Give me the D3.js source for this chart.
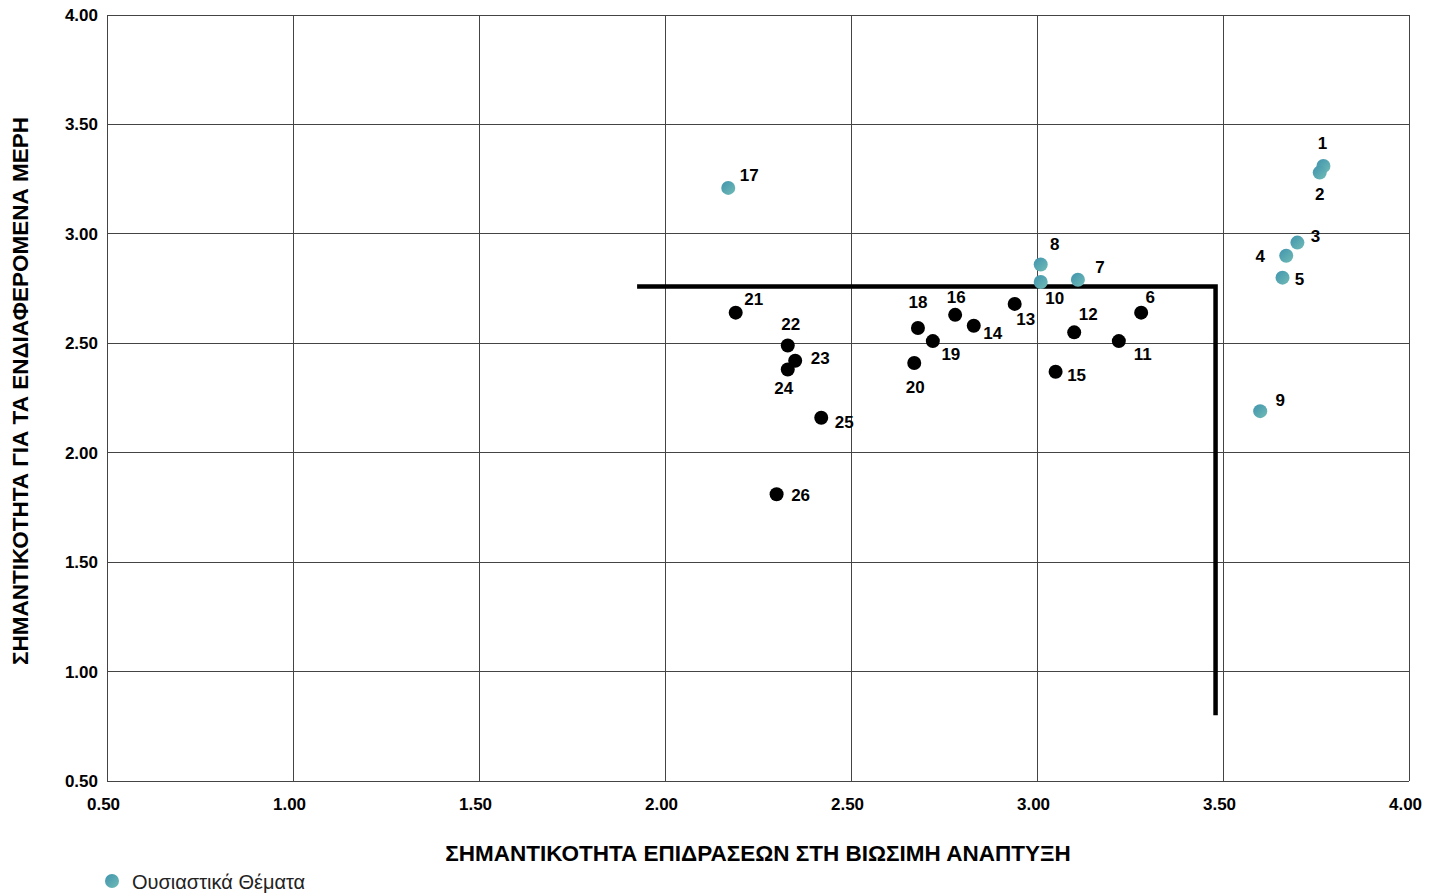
<!DOCTYPE html>
<html><head><meta charset="utf-8">
<script src="https://cdn.jsdelivr.net/npm/d3@7"></script>
<style>
body{margin:0;background:#fff;}
svg{display:block;font-family:"Liberation Sans",Arial,sans-serif;}
</style></head>
<body><svg id="c" width="1439" height="893"></svg>
<script>
const ids = [1,2,3,4,5,6,7,8,9,10,11,12,13,14,15,16,17,18,19,20,21,22,23,24,25,26];
const impactX = [3.77,3.76,3.70,3.67,3.66,3.28,3.11,3.01,3.60,3.01,3.22,3.10,2.94,2.83,3.05,2.78,2.17,2.68,2.72,2.67,2.19,2.33,2.35,2.33,2.42,2.30];
const stakeY  = [3.31,3.28,2.96,2.90,2.80,2.64,2.79,2.86,2.19,2.78,2.51,2.55,2.68,2.58,2.37,2.63,3.21,2.57,2.51,2.41,2.64,2.49,2.42,2.38,2.16,1.81];
const material = [1,1,1,1,1,0,1,1,1,1,0,0,0,0,0,0,1,0,0,0,0,0,0,0,0,0];
const xTicks = [0.5,1.0,1.5,2.0,2.5,3.0,3.5,4.0];
const yTicks = [0.5,1.0,1.5,2.0,2.5,3.0,3.5,4.0];
const thresholdX = [1.925,3.48,3.48];
const thresholdY = [2.76,2.76,0.80];
const xTitle = "ΣΗΜΑΝΤΙΚΟΤΗΤΑ ΕΠΙΔΡΑΣΕΩΝ ΣΤΗ ΒΙΩΣΙΜΗ ΑΝΑΠΤΥΞΗ";
const yTitle = "ΣΗΜΑΝΤΙΚΟΤΗΤΑ ΓΙΑ ΤΑ ΕΝΔΙΑΦΕΡΟΜΕΝΑ ΜΕΡΗ";
const legendLabel = "Ουσιαστικά Θέματα";
// label offsets (layout only)
const labelDx = [-1,0,18,-26,17,9,22,14,20,14,24,14,11,19,21,1,21,0,18,1,18,3,25,-4,23,24];
const labelDy = [-23,22,-6,1,2,-15,-12,-20,-11,16,13,-18,16,8,4,-17,-12,-25,13,25,-13,-21,-2,19,5,1];

const svg = d3.select("#c");
const defs = svg.append("defs");
const g = defs.append("linearGradient").attr("id","teal").attr("x1","0").attr("y1","0").attr("x2","1").attr("y2","1");
g.append("stop").attr("offset","0%").attr("stop-color","#3f93ad");
g.append("stop").attr("offset","100%").attr("stop-color","#72bcb6");

const x = d3.scaleLinear().domain([0.5,4.0]).range([107,1409]);
const y = d3.scaleLinear().domain([0.5,4.0]).range([781,15]);

// grid
svg.append("g").selectAll("line").data(xTicks).join("line")
  .attr("x1",d=>x(d)).attr("x2",d=>x(d)).attr("y1",y(4)).attr("y2",y(0.5))
  .attr("stroke","#444").attr("stroke-width",1).attr("shape-rendering","crispEdges");
svg.append("g").selectAll("line").data(yTicks).join("line")
  .attr("y1",d=>y(d)).attr("y2",d=>y(d)).attr("x1",x(0.5)).attr("x2",x(4))
  .attr("stroke","#444").attr("stroke-width",1).attr("shape-rendering","crispEdges");

// axes labels
const xAxis = svg.append("g").attr("transform",`translate(0,${y(0.5)})`)
  .call(d3.axisBottom(x).tickValues(xTicks).tickFormat(d3.format(".2f")).tickSize(0).tickPadding(17));
xAxis.select(".domain").remove();
xAxis.selectAll("text").attr("font-size",17).attr("font-weight","bold").attr("fill","#000")
  .attr("font-family","Liberation Sans, Arial, sans-serif").attr("dx",-4);
const yAxis = svg.append("g").attr("transform",`translate(${x(0.5)},0)`)
  .call(d3.axisLeft(y).tickValues(yTicks).tickFormat(d3.format(".2f")).tickSize(0).tickPadding(9));
yAxis.select(".domain").remove();
yAxis.selectAll("text").attr("font-size",17).attr("font-weight","bold").attr("fill","#000")
  .attr("font-family","Liberation Sans, Arial, sans-serif");

// threshold line
svg.append("path").datum(thresholdX.map((v,i)=>[v,thresholdY[i]]))
  .attr("d",d3.line().x(d=>x(d[0])).y(d=>y(d[1])))
  .attr("fill","none").attr("stroke","#000").attr("stroke-width",4.5);

// points
const pts = ids.map((id,i)=>({id,x:impactX[i],y:stakeY[i],m:material[i],dx:labelDx[i],dy:labelDy[i]}));
svg.append("g").selectAll("circle").data(pts).join("circle")
  .attr("cx",d=>x(d.x)).attr("cy",d=>y(d.y)).attr("r",7)
  .attr("fill",d=>d.m?"url(#teal)":"#000");
svg.append("g").selectAll("text").data(pts).join("text")
  .attr("x",d=>x(d.x)+d.dx).attr("y",d=>y(d.y)+d.dy)
  .attr("text-anchor","middle").attr("dominant-baseline","central")
  .attr("font-size",17).attr("font-weight","bold").attr("fill","#000")
  .text(d=>d.id);

// titles
svg.append("text").attr("x",758).attr("y",853).attr("text-anchor","middle").attr("dominant-baseline","central")
  .attr("font-size",22.5).attr("font-weight","bold").attr("fill","#000").text(xTitle);
svg.append("text").attr("transform","translate(20,391) rotate(-90)").attr("text-anchor","middle").attr("dominant-baseline","central")
  .attr("font-size",22.5).attr("font-weight","bold").attr("fill","#000").text(yTitle);

// legend
svg.append("circle").attr("cx",112).attr("cy",881).attr("r",7).attr("fill","url(#teal)");
svg.append("text").attr("x",132).attr("y",882).attr("dominant-baseline","central")
  .attr("font-size",20).attr("fill","#222").text(legendLabel);
</script></body></html>
